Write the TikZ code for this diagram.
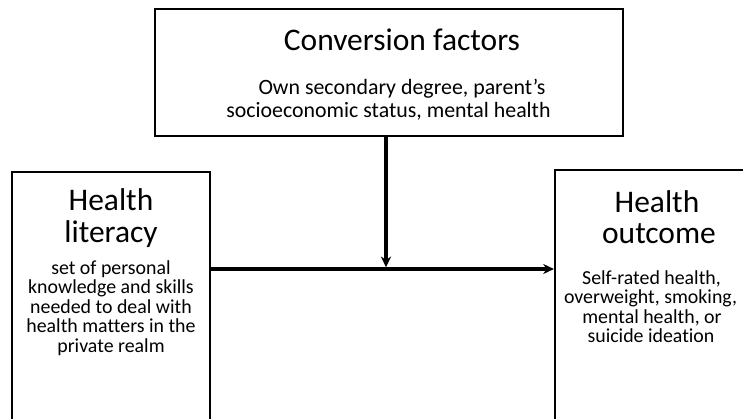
\documentclass[tikz,border=0pt]{standalone}
\usepackage{fontspec}
\setmainfont{Carlito}[Ligatures={NoCommon}]
\usetikzlibrary{arrows.meta,fit}
\begin{document}
\begin{tikzpicture}[x=0.75pt,y=-0.75pt,
  box/.style={draw, line width=1.6pt, inner sep=0pt},
  ttl/.style={anchor=base, inner sep=0pt, font=\fontsize{23.6}{24}\selectfont},
  topbody/.style={anchor=base, inner sep=0pt, font=\fontsize{16.4}{17}\selectfont},
  sidebody/.style={anchor=base, inner sep=0pt, font=\fontsize{14.9}{15}\selectfont},
  conn/.style={line width=2.4pt, -{Stealth[length=8pt,width=7.5pt,inset=2.5pt]}}]
\useasboundingbox (0,0) rectangle (743,418);
\fill[white] (0,0) rectangle (743,418);
\clip (0,0) rectangle (743,418);
% boxes
\node[box, fit={(155,9) (623,136)}] (conv) {};
\node[box, fit={(12,172) (210,440)}] (lit) {};
\node[box, fit={(555,170) (775,440)}] (out) {};
% top box text
\node[ttl] (convt) at (402,50) {Conversion factors};
\node[topbody] (convb1) at (402,94.5) {Own secondary degree, parent’s};
\node[topbody] (convb2) at (388.5,117.5) {socioeconomic status, mental health};
% left box text
\node[ttl] (litt1) at (111,210) {Health};
\node[ttl] (litt2) at (111,242) {literacy};
\node[sidebody] (litb1) at (111,274) {set of personal};
\node[sidebody] (litb2) at (111,293.5) {knowledge and skills};
\node[sidebody] (litb3) at (111,313) {needed to deal with};
\node[sidebody] (litb4) at (111,332.5) {health matters in the};
\node[sidebody] (litb5) at (111,352) {private realm};
% right box text
\node[ttl] (outt1) at (657,212) {Health};
\node[ttl] (outt2) at (659,243) {outcome};
\node[sidebody] (outb1) at (651.5,284) {Self-rated health,};
\node[sidebody] (outb2) at (650.5,303.5) {overweight, smoking,};
\node[sidebody] (outb3) at (652,323) {mental health, or};
\node[sidebody] (outb4) at (651,342.5) {suicide ideation};
% connectors
\coordinate (mid) at (386,269);
\coordinate (vend) at (386,267.3);
\draw[conn] (lit.east |- mid) -- (out.west |- mid);
\draw[conn] (conv.south -| mid) -- (vend);
\end{tikzpicture}
\end{document}
